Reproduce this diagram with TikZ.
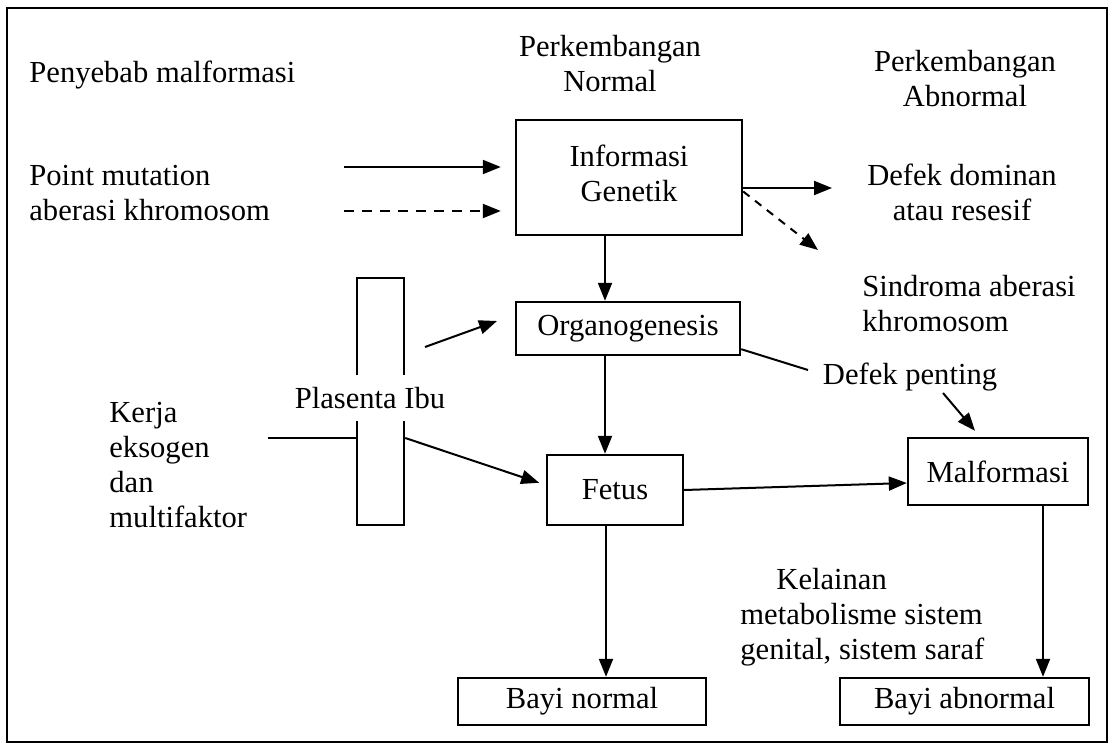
\documentclass[tikz,border=0pt]{standalone}
\usepackage{fontspec}
\setmainfont{Liberation Serif}
\usetikzlibrary{calc,arrows.meta}
\tikzset{
  txt/.style={font=\fontsize{15.3pt}{17.5pt}\selectfont, inner sep=2pt},
  box/.style={draw, line width=1.2pt, rectangle, font=\fontsize{15.3pt}{17.5pt}\selectfont, inner sep=0pt, align=center},
  arr/.style={line width=1pt, -{Triangle[length=9pt,width=7pt]}},
  plain/.style={line width=1pt},
}
\begin{document}
\begin{tikzpicture}[x=0.5pt,y=-0.5pt]
\useasboundingbox (0,0) rectangle (1112,754);
\draw[line width=1.3pt] (7,8) rectangle (1107,742);
% headings
\node[txt, anchor=west] (peny) at (25,75) {Penyebab malformasi};
\node[txt, align=center] (pnorm) at (610,64) {Perkembangan\\Normal};
\node[txt, align=center] (pabn) at (965,79) {Perkembangan\\Abnormal};
% left texts
\node[txt, anchor=west, align=left] (pm) at (25,193) {Point mutation\\aberasi khromosom};
\node[txt, anchor=west, align=left] (kerja) at (105,465) {Kerja\\eksogen\\dan\\multifaktor};
% boxes
\node[box, minimum width=113pt, minimum height=57.5pt] (info) at (629,177.5) {\raisebox{8pt}{\begin{tabular}{@{}c@{}}Informasi\\Genetik\end{tabular}}};
\node[box, minimum width=112pt, minimum height=26.5pt] (org) at (628,328.5) {Organogenesis};
\node[box, minimum width=68pt, minimum height=35pt] (fet) at (615,490) {Fetus};
\node[box, minimum width=90pt, minimum height=33.5pt] (mal) at (998,471.5) {Malformasi};
\node[box, minimum width=124pt, minimum height=23.5pt] (bn) at (582,701.5) {Bayi normal};
\node[box, minimum width=124.5pt, minimum height=23.5pt] (ba) at (964.5,701.5) {Bayi abnormal};
% placenta
\node[draw, line width=1.2pt, minimum width=23.5pt, minimum height=123.5pt, inner sep=0pt] (plas) at (380.5,401.5) {};
\node[txt, fill=white, minimum height=23pt, inner sep=1pt] (plastxt) at (370,398) {Plasenta Ibu};
% right texts
\node[txt, align=center] (dd) at (962,192) {Defek dominan\\atau resesif};
\node[txt, anchor=west, align=left] (sa) at (858,304) {Sindroma aberasi\\khromosom};
\node[txt] (dp) at (910,377) {Defek penting};
\node[txt, anchor=west, align=left] (kel) at (736,617) {\hspace*{18pt}Kelainan\\metabolisme sistem\\genital, sistem saraf};
% input arrows
\coordinate (s1) at (344,167);
\coordinate (s2) at (344,211);
\draw[arr, shorten >=7pt] (s1) -- (s1 -| info.west);
\draw[arr, dashed, dash pattern=on 5pt off 4pt, shorten >=7pt] (s2) -- (s2 -| info.west);
% output arrows of info
\coordinate (o1) at (832,188);
\coordinate (o2) at (818,250);
\draw[arr] ($(info.east)+(0,10.5)$) -- (o1);
\draw[arr, dashed, dash pattern=on 4pt off 3.5pt] ($(info.east)+(0,14)$) -- (o2);
% vertical arrows
\draw[arr] ($(info.south)+(-24,0)$) coordinate (v1) -- (v1 |- org.north);
\draw[arr] ($(org.south)+(-23,0)$) coordinate (v2) -- (v2 |- fet.north);
\draw[arr] ($(fet.south)+(-9,0)$) coordinate (v3) -- (v3 |- bn.north);
\draw[arr] ($(mal.south)+(45,0)$) coordinate (v4) -- (v4 |- ba.north);
% placenta arrows
\coordinate (p1) at (425,347);
\coordinate (p1e) at (497,321);
\draw[arr] (p1) -- (p1e);
\coordinate (k1) at (268,438);
\draw[plain] (k1) -- (k1 -| plas.west);
\draw[arr, shorten >=3.5pt] ($(plas.east)+(0,36.5)$) -- ($(fet.west)+(0,-5)$);
% organogenesis to defek penting
\draw[plain] ($(org.south east)+(0,-7)$) -- (808,370) coordinate (dpin);
\draw[arr] ($(dp.center)+(33,16)$) -- ($(mal.north)+(-23,-6)$);
% fetus to malformasi
\draw[arr] (fet.east) -- ($(mal.west)+(0,11.5)$);
\end{tikzpicture}
\end{document}
